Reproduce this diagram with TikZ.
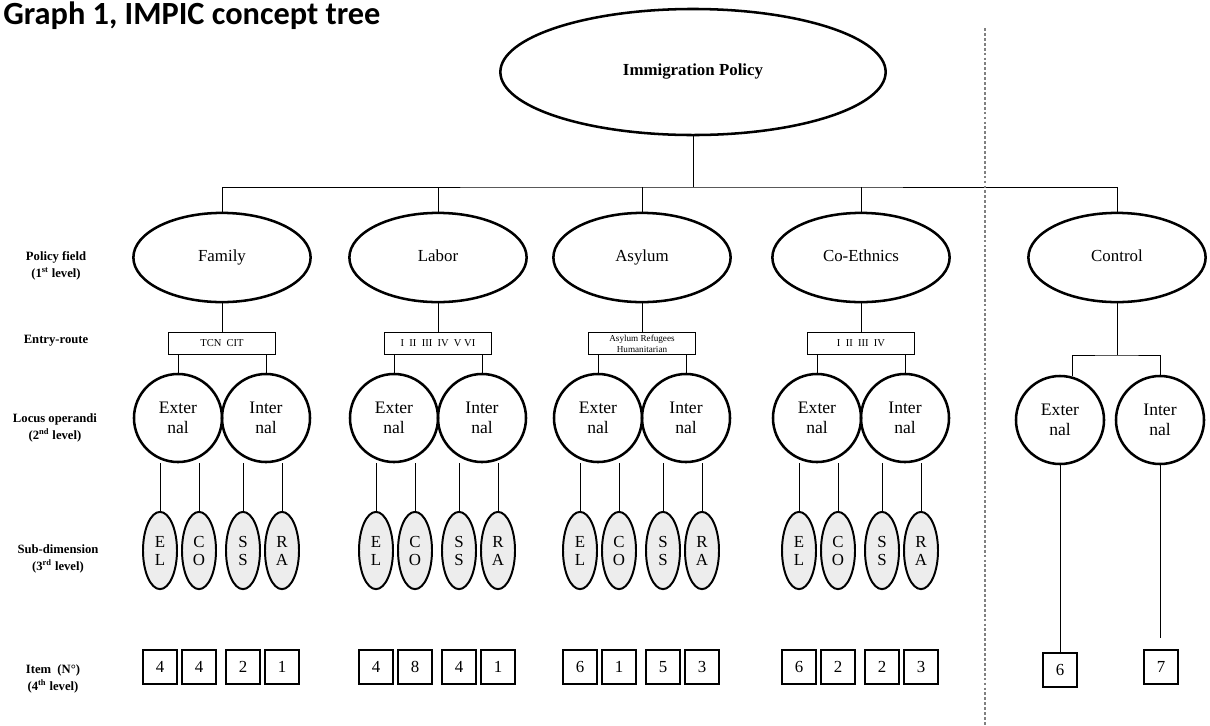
\documentclass[tikz,border=0pt]{standalone}
\usepackage{fontspec}
\setmainfont{Liberation Serif}
\newfontfamily\titlefont{Carlito}
\usetikzlibrary{shapes,positioning}

\begin{document}
\begin{tikzpicture}[x=0.025cm,y=-0.025cm]
\tikzset{policy/.style={ellipse,draw,line width=1.8pt,minimum width=4.43cm,
minimum height=2.23cm,text height=1.6ex,text depth=.4ex,font=\fontsize{12}{14}\selectfont},
route/.style={rectangle,draw,line width=0.6pt,minimum width=2.68cm,
minimum height=0.55cm,inner sep=1pt,align=center},
locus/.style={circle,draw,line width=1.8pt,minimum size=2.2cm,inner sep=0pt,
align=center,font=\fontsize{12.5}{14.2}\selectfont},
subdim/.style={ellipse,draw,line width=1.4pt,fill=black!7,minimum width=0.85cm,
minimum height=1.93cm,inner sep=0pt,align=center,font=\fontsize{12}{12.8}\selectfont},
item/.style={rectangle,draw,line width=1.5pt,minimum size=0.85cm,inner sep=0pt,
font=\fontsize{12}{14}\selectfont},
level/.style={align=center,font=\bfseries\fontsize{9}{12}\selectfont},
link/.style={draw,line width=0.6pt}}
\useasboundingbox (0,0) rectangle (1210,725);

\node[anchor=base west,inner sep=0pt,font=\titlefont\bfseries\fontsize{23}{23}\selectfont]
(title) at (3,24) {Graph 1, IMPIC concept tree};

\node[ellipse,draw,line width=1.8pt,minimum width=9.63cm,minimum height=3.15cm,
font=\bfseries\fontsize{12}{14}\selectfont] (Immigration) at (693,72) {Immigration Policy};
\coordinate (bus) at (693,187);

% row labels
\node[level] (field level) at (56,266) {Policy field\\(1\textsuperscript{st} level)};
\node[level] (route level) at (56,341) {Entry-route};
\node[level] (locus level) at (55,428) {Locus operandi\\(2\textsuperscript{nd} level)};
\node[level] (sub level) at (58,559) {Sub-dimension\\(3\textsuperscript{rd} level)};
\node[level] (item level) at (53,679) {Item\ \ (N°)\\(4\textsuperscript{th} level)};

\foreach \field/\ftext/\cx/\rsize/\routes/\na/\nb/\nc/\nd in {
Family/Family/222/7.5/{TCN\ \ CIT}/4/4/2/1,
Labor/Labor/438/7.5/{I\ \ II\ \ III\ \ IV\ \ V VI}/4/8/4/1,
Asylum/Asylum/642/6.5/{Asylum Refugees\\Humanitarian}/6/1/5/3,
CoEthnics/Co-Ethnics/861/7.5/{I\ \ II\ \ III\ \ IV}/6/2/2/3}
{
\node[policy] (\field) at (\cx,257.5) {\ftext};
\node[route,font=\fontsize{\rsize}{8}\selectfont] (\field route) at (\cx,343.5) {\routes};
\node[locus] (\field ext) at (\cx-44,418) {Exter\\nal};
\node[locus] (\field int) at (\cx+44,418) {Inter\\nal};
\path[link] (\field.north) -- (\field.north |- bus)
(\field) -- (\field route)
(\field route.south -| \field ext) -- (\field ext)
(\field route.south -| \field int) -- (\field int);
\foreach \dx/\sub/\n [count=\k] in {-62/E\\L/\na,-23/C\\O/\nb,21/S\\S/\nc,60/R\\A/\nd}
{
\node[subdim] (\field sub\k) at (\cx+\dx,550.5) {\sub};
\node[item] (\field item\k) at (\cx+\dx,667) {\n};
\path[link] (\field sub\k.north) -- (\field sub\k.north |- \field ext.south);
}
}

\node[policy] (Control) at (1117,257.5) {Control};
\node[locus] (Control ext) at (1060,420) {Exter\\nal};
\node[locus] (Control int) at (1160,420) {Inter\\nal};
\node[item] (Control item1) at (1060,670) {6};
\node[item] (Control item2) at (1161,667) {7};
\coordinate (control bus) at (1117,355);

\path[link] (Immigration) -- (bus)
(Family.north) |- (bus) -| (Control.north)
(Control) -- (control bus)
(Control ext.74) |- (control bus) -| (Control int);
\path[link,shorten >=0.27cm] (Control ext) -- (Control item1)
(Control int.south) -- (Control int.south |- Control item2.north);

\coordinate (split top) at (985,28);
\coordinate (split bottom) at (985,725);
\draw[gray,line width=0.8pt,dash pattern=on 2pt off 1.5pt] (split top) -- (split bottom);
\end{tikzpicture}
\end{document}
